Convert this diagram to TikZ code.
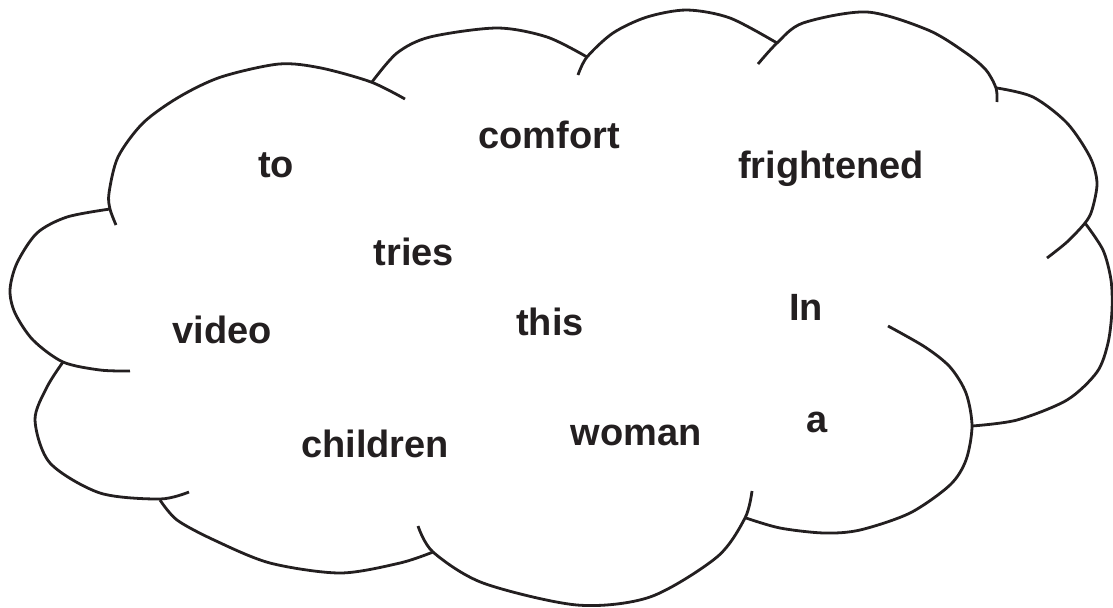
\documentclass[tikz,border=0pt]{standalone}
\usepackage{fontspec}
\setmainfont{Liberation Sans}
\definecolor{inkblack}{RGB}{35,31,32}

\begin{document}
\begin{tikzpicture}[
  x=0.5pt, y=-0.5pt,
  puff/.style={draw=inkblack, line width=1.4pt},
  word/.style={anchor=base, inner sep=0pt, text=inkblack, font=\fontsize{19}{22}\selectfont\bfseries},
]
\useasboundingbox (0,0) rectangle (1113,607);
% Cloud
\draw[puff] plot[smooth] coordinates {(130,371) (100,370) (63,362) (33,340) (15,313) (10,290) (17,263) (37,233) (67,217) (110,209)};
\draw[puff] plot[smooth] coordinates {(116,225) (110,209) (109,193) (118,157) (143,123) (179,97) (221,77) (279,64) (321,68) (371,82) (405,99)};
\draw[puff] plot[smooth] coordinates {(372,82) (397,53) (430,37) (497,28) (547,37) (587,57)};
\draw[puff] plot[smooth] coordinates {(578,75) (587,57) (613,33) (647,17) (687,10) (730,18) (777,43)};
\draw[puff] plot[smooth] coordinates {(758,64) (777,43) (803,23) (867,12) (928,30) (966,53) (986,70) (996,88) (997,102)};
\draw[puff] plot[smooth] coordinates {(997,88) (1033,97) (1067,123) (1090,157) (1097,183) (1092,210) (1085,223) (1067,242) (1047,258)};
\draw[puff] plot[smooth] coordinates {(1085,223) (1103,250) (1111,280) (1112,310) (1108,343) (1097,372) (1067,400) (1017,420) (972,426)};
\draw[puff] plot[smooth] coordinates {(888,326) (925,347) (950,367) (966,393) (972,426) (966,460) (950,485) (910,513) (860,530) (824,533) (780,528) (746,518)};
\draw[puff] plot[smooth] coordinates {(752,491) (745,518) (717,557) (650,597) (577,605) (483,583) (433,552) (418,526)};
\draw[puff] plot[smooth] coordinates {(433,552) (400,563) (340,573) (270,563) (214,540) (177,520) (160,500)};
\draw[puff] plot[smooth] coordinates {(189,492) (160,499) (100,493) (50,463) (35,420) (47,387) (63,362)};

% Words
\node[word] (wto) at (276,177) {to};
\node[word] (wcomfort) at (549,148) {comfort};
\node[word] (wfrightened) at (831,178) {frightened};
\node[word] (wtries) at (414,265) {tries};
\node[word] (wvideo) at (222,343) {video};
\node[word] (wthis) at (550,335) {this};
\node[word] (win) at (806,320) {In};
\node[word] (wchildren) at (375,457) {children};
\node[word] (wwoman) at (636,445) {woman};
\node[word] (wa) at (817,432) {a};
\end{tikzpicture}
\end{document}
